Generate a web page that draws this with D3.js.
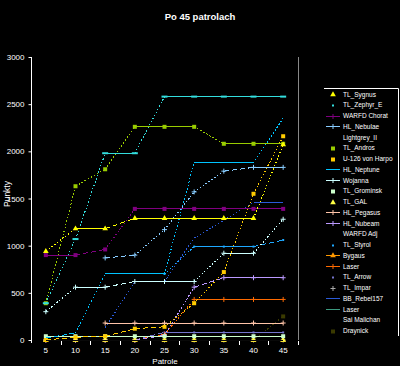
<!DOCTYPE html>
<html>
<head>
<meta charset="utf-8">
<script src="https://cdn.jsdelivr.net/npm/d3@7"></script>
<style>
  html, body { margin: 0; padding: 0; background: #000; }
  svg { display: block; font-family: "Liberation Sans", "DejaVu Sans", sans-serif; }
</style>
</head>
<body>
<svg id="chart" width="400" height="366"></svg>
<script>
// categories and ticks
const patrols = [5, 10, 15, 20, 25, 30, 35, 40, 45];
const yTicks = [0, 500, 1000, 1500, 2000, 2500, 3000];

// points per player, one value per patrol (null = no data yet)
const tlSygnus    = [940, 1180, 1180, 1290, 1290, 1290, 1290, 1290, 2070];
const tlZephyrE   = [390, 1070, 1980, 1980, 2580, 2580, 2580, 2580, 2580];
const warfdChorat = [900, 900, 960, 1390, 1390, 1390, 1390, 1390, 1390];
const hlNebulae   = [null, null, 870, 900, 1170, 1570, 1790, 1830, 1830];
const lightgrey   = [0, 0, 0, 0, 0, 0, 0, 0, 0];
const tlAndros    = [390, 1630, 1810, 2260, 2260, 2260, 2080, 2080, 2080];
const u126        = [0, 30, 40, 120, 140, 390, 720, 1550, 2160];
const hlNeptune   = [20, 75, 700, 700, 700, 1880, 1880, 1880, 2350];
const wojanna     = [300, 560, 560, 620, 620, 620, 920, 920, 1280];
const tlGrominsk  = [40, 40, 40, 40, 40, 40, 40, 40, 40];
const tlGal       = [0, 0, 0, 0, 0, 0, 0, 0, 0];
const hlPegasus   = [null, null, 180, 180, 180, 180, 180, 180, 180];
const hlNubeam    = [0, 0, 0, 0, 50, 560, 660, 660, 660];
const warfdAdj    = [0, 0, 0, 0, 0, 0, 0, 0, 0];
const tlStyrol    = [null, null, null, null, 700, 990, 990, 990, 1060];
const bygaus      = [0, 0, 0, 0, 0, 0, 0, 0, 0];
const laser       = [0, 0, 0, 0, 60, 430, 430, 430, 430];
const tlArrow     = [0, 0, 0, 0, 80, 80, 80, 80, 80];
const tlImpar     = [0, 0, 0, 0, 0, 0, 0, 0, 0];
const bbRebel     = [null, null, 130, 620, 620, 1080, 1270, 1460, 1460];
const laser2      = [null, null, null, null, null, 430, 430, 430, 430];
const saiMalichan = [0, 0, 0, 0, 0, 0, 0, 0, 0];
const draynick    = [0, 0, 0, 0, 0, 0, 0, 0, 250];

const seriesNames = ["TL_Sygnus", "TL_Zephyr_E", "WARFD Chorat", "HL_Nebulae", "Lightgrey_II",
  "TL_Andros", "U-126 von Harpo", "HL_Neptune", "Wojanna", "TL_Grominsk", "TL_GAL",
  "HL_Pegasus", "HL_Nubeam", "WARFD Adj", "TL_Styrol", "Bygaus", "Laser", "TL_Arrow",
  "TL_Impar", "BB_Rebel157", "Laser", "Sai Malichan", "Draynick"];
const seriesValues = [tlSygnus, tlZephyrE, warfdChorat, hlNebulae, lightgrey, tlAndros, u126,
  hlNeptune, wojanna, tlGrominsk, tlGal, hlPegasus, hlNubeam, warfdAdj, tlStyrol, bygaus,
  laser, tlArrow, tlImpar, bbRebel, laser2, saiMalichan, draynick];
const seriesColors = ["#ffff00", "#33dddd", "#800080", "#88ccff", "#080808", "#99cc00", "#ffcc00",
  "#00c4ff", "#ccffff", "#ccffcc", "#ffff44", "#ffc4a8", "#bb99ff", "#080808", "#1ea8ff",
  "#ff9900", "#ff6a00", "#7474cc", "#aaaaaa", "#2a5ad8", "#3c9a80", "#080808", "#3a3a00"];
const seriesMarkers = ["triangle", "dash", "square", "plus", "none", "square", "square", "none",
  "plus", "square", "triangle", "plus", "plus", "none", "dot", "triangle", "plus", "dot",
  "plus", "none", "none", "none", "square"];
const legendMarkers = ["triangle", "dot", "plus", "plus", "none", "square", "square", "none",
  "plus", "square", "triangle", "plus", "plus", "none", "dot", "triangle", "plus", "dot",
  "plus", "none", "none", "none", "square"];
const legendLine = [false, false, true, true, false, false, false, true, true, false, false,
  true, true, false, false, true, true, false, false, true, true, false, false];

const svg = d3.select("#chart");

// scales
const x = d3.scaleBand().domain(patrols).range([31, 298]);
const y = d3.scaleLinear().domain([0, 3000]).range([340, 57]);
const cx = d => x(d) + x.bandwidth() / 2;

// title
svg.append("text")
  .attr("x", 200).attr("y", 20)
  .attr("text-anchor", "middle")
  .attr("fill", "#fff")
  .attr("font-size", 9.5)
  .attr("font-weight", "bold")
  .text("Po 45 patrolach");

// right border of plot
svg.append("line")
  .attr("x1", 298.5).attr("x2", 298.5)
  .attr("y1", 57).attr("y2", 340)
  .attr("stroke", "#888");

// y axis
const yAxis = svg.append("g")
  .attr("transform", "translate(31.5,0)")
  .call(d3.axisLeft(y).tickValues(yTicks).tickFormat(d3.format("d"))
    .tickSize(3).tickSizeOuter(0).tickPadding(4));
yAxis.select(".domain").attr("stroke", "#fff").attr("d", "M0,57V343");
yAxis.selectAll(".tick line").attr("stroke", "#fff");
yAxis.selectAll(".tick text").attr("fill", "#fff").attr("font-size", 8)
  .attr("font-family", "Liberation Sans, sans-serif");

// x axis: labels centered in each band, tick marks on band borders
const xAxis = svg.append("g")
  .attr("transform", "translate(0,340)")
  .call(d3.axisBottom(x).tickSize(0).tickPadding(7));
xAxis.select(".domain").remove();
xAxis.selectAll(".tick text").attr("fill", "#fff").attr("font-size", 8)
  .attr("font-family", "Liberation Sans, sans-serif");

const borders = patrols.slice(1).map(d => x(d)).concat([x.range()[1]]);
svg.append("g").selectAll("line")
  .data(borders)
  .join("line")
  .attr("x1", d => Math.round(d) + 0.5).attr("x2", d => Math.round(d) + 0.5)
  .attr("y1", 341).attr("y2", 345)
  .attr("stroke", "#fff");

// axis titles
svg.append("text")
  .attr("x", 165).attr("y", 364)
  .attr("text-anchor", "middle")
  .attr("fill", "#fff").attr("font-size", 8)
  .text("Patrole");
svg.append("text")
  .attr("transform", "translate(10,194) rotate(-90)")
  .attr("text-anchor", "middle")
  .attr("fill", "#fff").attr("font-size", 8.5)
  .text("Punkty");

// draws one marker symbol
function drawMarker(g, type, color, px, py) {
  if (type === "square") {
    g.append("rect").attr("x", px - 2).attr("y", py - 2).attr("width", 4).attr("height", 4)
      .attr("fill", color);
  } else if (type === "triangle") {
    g.append("path").attr("d", d3.symbol(d3.symbolTriangle, 14)())
      .attr("transform", `translate(${px},${py})`).attr("fill", color);
  } else if (type === "plus") {
    g.append("path").attr("d", `M${px - 2.5},${py}H${px + 2.5}M${px},${py - 2.5}V${py + 2.5}`)
      .attr("stroke", color).attr("stroke-width", 1);
  } else if (type === "dash") {
    g.append("rect").attr("x", px - 3).attr("y", py - 1).attr("width", 6).attr("height", 2)
      .attr("fill", color);
  } else if (type === "dot") {
    g.append("rect").attr("x", px - 1).attr("y", py - 1).attr("width", 2).attr("height", 2)
      .attr("fill", color);
  }
}

// the lines look solid when flat, dashed when slightly sloped, dotted when steep
function dashFor(dx, dy) {
  const s = Math.abs(dy) / dx;
  if (s < 0.02) return null;
  if (s < 0.4) return "5,3";
  return "1.5,2";
}

// series, last legend entry drawn first
const plot = svg.append("g");
d3.range(seriesNames.length).reverse().forEach(i => {
  const vals = seriesValues[i];
  const color = seriesColors[i];
  const g = plot.append("g");
  const pts = patrols.map((p, k) => vals[k] == null ? null : [cx(p), y(vals[k])]);

  for (let k = 0; k < pts.length - 1; k++) {
    const a = pts[k], b = pts[k + 1];
    if (!a || !b) continue;
    g.append("line")
      .attr("x1", a[0]).attr("y1", a[1])
      .attr("x2", b[0]).attr("y2", b[1])
      .attr("stroke", color)
      .attr("stroke-width", 1)
      .attr("stroke-dasharray", dashFor(b[0] - a[0], b[1] - a[1]))
      .attr("shape-rendering", "crispEdges");
  }
  pts.forEach(p => { if (p) drawMarker(g, seriesMarkers[i], color, p[0], p[1]); });
});

// legend
const legend = svg.append("g");
legend.append("path")
  .attr("d", "M324,88.5H398.5V336")
  .attr("fill", "none")
  .attr("stroke", "#fff");

seriesNames.forEach((name, i) => {
  const ly = 94 + i * 10.75;
  const row = legend.append("g");
  if (legendLine[i]) {
    row.append("line")
      .attr("x1", 326).attr("x2", 340)
      .attr("y1", Math.round(ly) + 0.5).attr("y2", Math.round(ly) + 0.5)
      .attr("stroke", seriesColors[i]);
  }
  drawMarker(row, legendMarkers[i], seriesColors[i], 333, Math.round(ly) + 0.5);
  row.append("text")
    .attr("x", 343).attr("y", ly + 2.5)
    .attr("fill", "#fff")
    .attr("font-size", 6.5)
    .text(name);
});
</script>
</body>
</html>
